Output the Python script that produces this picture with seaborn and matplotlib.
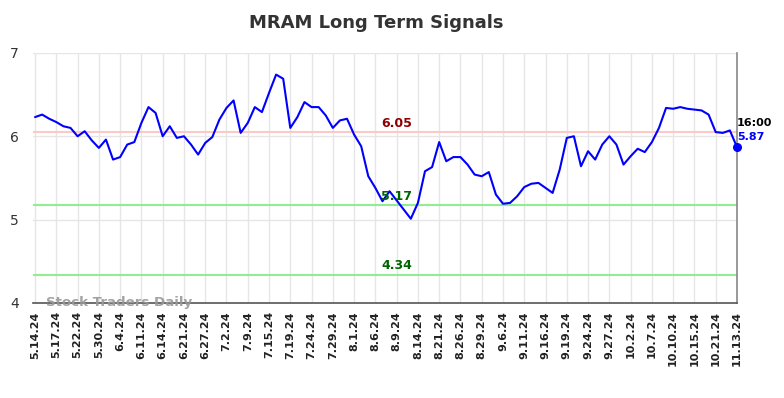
import matplotlib
matplotlib.use("Agg")
import matplotlib.pyplot as plt
import seaborn as sns
import pandas as pd

# Closing prices, one per trading day
prices = [
    6.23, 6.26, 6.21, 6.17, 6.12, 6.10, 6.00, 6.06, 5.95, 5.86,
    5.96, 5.72, 5.75, 5.90, 5.93, 6.16, 6.35, 6.28, 6.00, 6.12,
    5.98, 6.00, 5.90, 5.78, 5.92, 5.99, 6.20, 6.34, 6.43, 6.04,
    6.16, 6.35, 6.29, 6.52, 6.74, 6.69, 6.10, 6.23, 6.41, 6.35,
    6.35, 6.25, 6.10, 6.19, 6.21, 6.02, 5.88, 5.52, 5.38, 5.22,
    5.34, 5.23, 5.12, 5.01, 5.20, 5.58, 5.63, 5.93, 5.70, 5.75,
    5.75, 5.66, 5.54, 5.52, 5.57, 5.30, 5.19, 5.20, 5.28, 5.39,
    5.43, 5.44, 5.38, 5.32, 5.60, 5.98, 6.00, 5.64, 5.82, 5.72,
    5.90, 6.00, 5.90, 5.66, 5.76, 5.85, 5.81, 5.93, 6.10, 6.34,
    6.33, 6.35, 6.33, 6.32, 6.31, 6.26, 6.05, 6.04, 6.07, 5.87,
]

tick_labels = [
    "5.14.24", "5.17.24", "5.22.24", "5.30.24", "6.4.24", "6.11.24",
    "6.14.24", "6.21.24", "6.27.24", "7.2.24", "7.9.24", "7.15.24",
    "7.19.24", "7.24.24", "7.29.24", "8.1.24", "8.6.24", "8.9.24",
    "8.14.24", "8.21.24", "8.26.24", "8.29.24", "9.6.24", "9.11.24",
    "9.16.24", "9.19.24", "9.24.24", "9.27.24", "10.2.24", "10.7.24",
    "10.10.24", "10.15.24", "10.21.24", "11.13.24",
]
# every third trading day gets a label, plus the last one
tick_pos = list(range(0, 97, 3)) + [99]

resistance = 6.05
supports = [5.17, 4.34]
last_time = "16:00"

df = pd.DataFrame({"idx": range(len(prices)), "price": prices})

sns.set_style("white")

fig = plt.figure(figsize=(7.84, 3.98), dpi=100)
ax = fig.add_axes([0.042, 0.239, 0.898, 0.628])

# signal lines
ax.axhline(resistance, color="#ffc8c8", lw=1.5, zorder=1)
for s in supports:
    ax.axhline(s, color="#90ee90", lw=1.5, zorder=1)

sns.lineplot(data=df, x="idx", y="price", color="blue", lw=1.5, ax=ax, zorder=3)
ax.scatter([df["idx"].iloc[-1]], [prices[-1]], color="blue", s=30, zorder=4, clip_on=False)

ax.text(51, resistance + 0.03, f"{resistance:.2f}", color="#8b0000",
        fontsize=9, fontweight="bold", ha="center", va="bottom")
for s in supports:
    ax.text(51, s + 0.03, f"{s:.2f}", color="#006400",
            fontsize=9, fontweight="bold", ha="center", va="bottom")

ax.text(99, 6.16, last_time, fontsize=8, fontweight="bold", color="black",
        ha="left", va="center", clip_on=False)
ax.text(99, 5.99, f"{prices[-1]:.2f}", fontsize=8, fontweight="bold", color="blue",
        ha="left", va="center", clip_on=False)

ax.text(1.5, 4.0, "Stock Traders Daily", fontsize=9.6, fontweight="bold",
        color="#999999", alpha=0.9, ha="left", va="center", zorder=5)

ax.set_xlim(-0.3, 99)
ax.set_ylim(4, 7)
ax.set_yticks([4, 5, 6, 7])
ax.set_xticks(tick_pos)
ax.set_xticklabels(tick_labels, rotation=90, fontsize=8, fontweight="bold", color="#222222")
ax.tick_params(axis="y", labelsize=10, labelcolor="#333333", length=0, pad=10)
ax.tick_params(axis="x", length=0, pad=6)
ax.set_xlabel("")
ax.set_ylabel("")

ax.grid(True, color="#e6e6e6", lw=1)
ax.set_axisbelow(True)

for side in ["left", "top"]:
    ax.spines[side].set_visible(False)
ax.spines["bottom"].set_color("#555555")
ax.spines["bottom"].set_linewidth(1.2)
ax.spines["right"].set_color("#888888")
ax.spines["right"].set_linewidth(1.2)

fig.suptitle("MRAM Long Term Signals", fontsize=13, fontweight="bold", color="#333333",
             x=0.48, y=0.965)

fig.savefig("out.png", dpi=100)
